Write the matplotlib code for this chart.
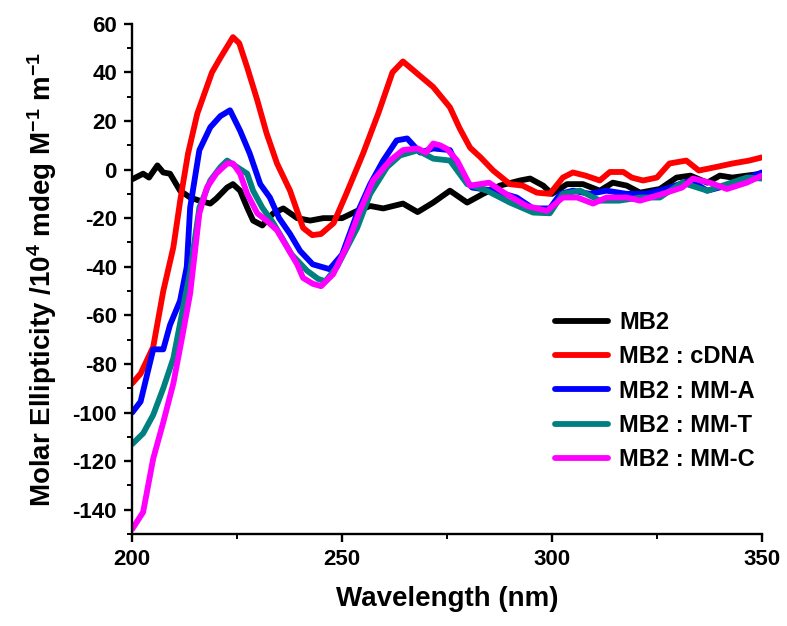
import numpy as np
import matplotlib.pyplot as plt

plt.rcParams['font.family'] = ['Liberation Sans', 'DejaVu Sans']
plt.rcParams['font.weight'] = 'bold'
plt.rcParams['mathtext.fontset'] = 'custom'
plt.rcParams['mathtext.rm'] = 'Liberation Sans:bold'
plt.rcParams['mathtext.default'] = 'rm'
plt.rcParams['axes.unicode_minus'] = False

# MB2 alone
x_mb2 = [200, 202.6, 204, 206, 207.4, 209, 211.4, 213.8, 216, 218.6, 220, 222.6, 224, 225.7,
         227.4, 228.8, 231, 233.6, 236, 239.3, 242.4, 245.5, 247, 250, 253.6, 256.7, 259.8,
         264.5, 268, 271.7, 275.7, 279.8, 283.6, 287.6, 292.4, 294.8, 297.9, 300, 303.6,
         307.4, 311.4, 314.5, 317.8, 321, 325.7, 329.7, 333, 337, 340, 343, 346.4, 350]
y_mb2 = [-4, -1.7, -3.3, 1.7, -1.2, -1.7, -8.7, -11.5, -12.8, -14, -12, -7.4, -6, -8.7,
         -15.7, -21, -23, -18, -16, -20, -21, -20, -20, -20, -17, -15, -16,
         -14, -17.5, -13.6, -8.7, -13.6, -10, -6.6, -4.5, -3.7, -6.6, -10, -6,
         -6, -8.7, -5.4, -6.6, -9.5, -8, -3.3, -2.5, -5.4, -2.5, -3.3, -2.5, -1.7]

# MB2 : cDNA
x_cdna = [200, 202, 205, 207.4, 209.8, 211.5, 213.3, 215.5, 219, 221, 224, 225.5, 227.4, 229.8,
          232, 234.5, 237.6, 240.7, 242.9, 245, 248, 251, 255, 258.6, 262, 264.5, 268.6,
          271.7, 275.7, 278, 280.5, 283, 286, 290, 293, 296.4, 299.5, 302.6, 305, 308,
          311.4, 313.8, 317, 319, 321.7, 325, 328, 332, 335, 339, 343, 347, 350]
y_cdna = [-88, -84, -73, -50, -32, -12, 6.6, 23, 40, 46, 54.5, 52, 42, 28.5,
          15, 2.5, -8.7, -24, -27, -26.5, -22, -10, 6.6, 23, 40, 44.5, 38.5,
          34, 25.6, 17, 9, 5, -0.4, -6, -6.6, -9.5, -10, -3.3, -1.2, -2.5,
          -4.5, -1, -1, -3.3, -4.5, -3.3, 2.5, 3.7, -0.4, 1, 2.5, 3.7, 5]

# MB2 : MM-A
x_mma = [200, 202, 205, 207.4, 209, 211.4, 213, 213.8, 216, 218.6, 221, 223.3, 225.7, 228,
         230.5, 232.8, 235, 237.6, 240, 243, 245, 247, 250, 253.6, 256.7, 259.8, 263,
         265.5, 268.6, 271.7, 275.7, 278.8, 281, 286, 291.6, 295.5, 299.5, 302, 305, 309,
         313, 317.8, 322.6, 327, 333, 337, 341.7, 346.4, 350]
y_mma = [-100, -95.5, -74, -74, -64, -54, -40, -15.7, 8, 17.4, 22, 24.4, 16, 6.6,
         -6, -11.5, -20, -26.5, -33.5, -39, -40, -41, -35, -18, -6, 3.7, 12,
         12.8, 7, 8.7, 8, -3.3, -7.4, -8.7, -11.5, -16, -16, -10, -8.7, -10,
         -8.7, -10, -10, -8, -4.5, -8.7, -6.6, -3.7, -1.2]

# MB2 : MM-T
x_mmt = [200, 202.6, 205, 207.4, 209.8, 212, 213.8, 216, 218.6, 221, 222.6, 225, 227.4,
         228.8, 231, 233.6, 236, 238, 241.7, 244.3, 246, 248.8, 253.6, 256.7, 260.7,
         263.8, 268, 271.7, 275.7, 279.8, 284.5, 290, 295.5, 299.5, 302.6, 306.7, 311.4,
         316, 321, 325.7, 331, 337, 341.7, 346.4, 350]
y_mmt = [-113, -108.6, -101, -90, -77.7, -58, -42, -15.7, -4.5, 1, 3.7, 1, -1.7,
         -8.7, -15.7, -22, -29, -35, -41.7, -45, -46, -40, -24, -10, 1,
         5.8, 7.9, 4.5, 3.7, -6, -8.7, -13.6, -17.7, -18, -10, -8.7, -12.8,
         -12.8, -11.5, -11.5, -5.4, -8.7, -6, -3.3, -3.7]

# MB2 : MM-C
x_mmc = [200, 202.6, 205, 207.4, 209.8, 212, 213.8, 215, 216, 217.8, 220, 222.6, 224,
         225.7, 227.4, 229.8, 232, 234.5, 236.9, 239.3, 240.7, 243, 245, 247.9, 251, 254,
         257.4, 261.4, 264.5, 268, 270, 271.7, 273.3, 275, 277.4, 280.5, 285, 289, 294,
         298.8, 302.6, 306, 309.8, 313, 317.8, 321, 326.4, 331, 333.6, 337.6, 341.7,
         346.4, 350]
y_mmc = [-148, -141, -119, -104, -88, -68, -51, -33, -18, -7.4, -1.7, 2.5, 2.5,
         -1.7, -10, -18, -21, -25, -32, -39, -44.6, -47, -48, -43, -32, -18,
         -4.5, 3.7, 8, 8.7, 7, 10.7, 10, 8.5, 3.7, -6.6, -5.4, -10, -15,
         -17, -11.5, -11.5, -14, -11.5, -11.5, -12.8, -10, -7.4, -3.7, -5.4, -8,
         -5.4, -2.5]

series = [
    (x_mb2, y_mb2, 'black', 'MB2'),
    (x_cdna, y_cdna, '#ff0000', 'MB2 : cDNA'),
    (x_mma, y_mma, '#0000ff', 'MB2 : MM-A'),
    (x_mmt, y_mmt, '#008080', 'MB2 : MM-T'),
    (x_mmc, y_mmc, '#ff00ff', 'MB2 : MM-C'),
]

fig = plt.figure(figsize=(7.87, 6.26), dpi=100)
ax = fig.add_axes([0.168, 0.147, 0.800, 0.815])

for xs, ys, c, lab in series:
    ax.plot(xs, ys, color=c, lw=4.2, label=lab, solid_joinstyle='round',
            solid_capstyle='round')

ax.set_xlim(200, 350)
ax.set_ylim(-150, 60)
ax.set_xticks([200, 250, 300, 350])
ax.set_xticks([225, 275, 325], minor=True)
ax.set_yticks(np.arange(-140, 61, 20))
ax.set_yticks(np.arange(-150, 61, 10), minor=True)

for s in ['top', 'right']:
    ax.spines[s].set_visible(False)
for s in ['left', 'bottom']:
    ax.spines[s].set_linewidth(1.7)

ax.tick_params(which='major', direction='out', length=6, width=1.7, labelsize=16, pad=5)
ax.tick_params(which='minor', direction='out', length=3.5, width=1.4)
for t in ax.get_xticklabels() + ax.get_yticklabels():
    t.set_fontweight('bold')

ax.set_xlabel('Wavelength (nm)', fontsize=20, fontweight='bold', labelpad=11)
ax.set_ylabel(r'Molar Ellipticity /10$^{4}$ mdeg M$^{-1}$ m$^{-1}$', fontsize=20,
              fontweight='bold', labelpad=10)

leg = ax.legend(loc='upper left', bbox_to_anchor=(0.672, 0.437), frameon=False,
                prop={'weight': 'bold', 'size': 17}, handlelength=2.25,
                labelspacing=0.48, handletextpad=0.45, borderpad=0, borderaxespad=0)

fig.savefig('out.png', dpi=100)
